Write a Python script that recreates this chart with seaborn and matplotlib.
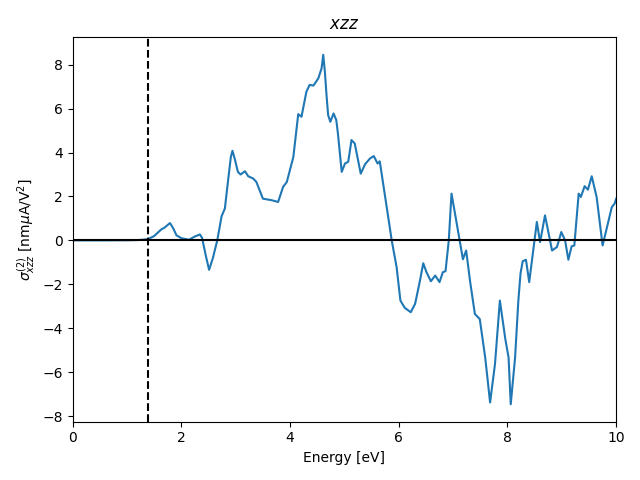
import matplotlib
matplotlib.use("Agg")
import matplotlib.pyplot as plt
import seaborn as sns
import pandas as pd

energy = [0.0, 0.5, 1.0, 1.2, 1.38, 1.5, 1.63, 1.69, 1.79, 1.85, 1.91, 2.0, 2.14, 2.25, 2.34, 2.38,
          2.45, 2.51, 2.58, 2.66, 2.74, 2.80, 2.86, 2.91, 2.94, 2.98, 3.04, 3.09, 3.17, 3.23,
          3.32, 3.38, 3.50, 3.66, 3.78, 3.87, 3.94, 4.06, 4.15, 4.21, 4.30, 4.36, 4.43, 4.52,
          4.58, 4.61, 4.64, 4.67, 4.70, 4.74, 4.80, 4.85, 4.88, 4.95,
          5.01, 5.07, 5.13, 5.19, 5.30, 5.38, 5.47, 5.54, 5.61, 5.65, 5.81, 5.87, 5.96, 6.03,
          6.11, 6.22, 6.30, 6.39, 6.45, 6.51, 6.59, 6.67, 6.75, 6.81, 6.86, 6.92, 6.97, 7.05,
          7.18, 7.24, 7.31, 7.40, 7.49, 7.59, 7.68, 7.77, 7.86, 7.96, 8.02, 8.06, 8.14, 8.20,
          8.24, 8.28, 8.34, 8.40, 8.54, 8.60, 8.69,
          8.82, 8.91, 8.99, 9.06, 9.12, 9.18, 9.23, 9.31, 9.35, 9.42, 9.48, 9.55, 9.64, 9.75,
          9.92, 9.97, 10.0]
sigma = [0.0, 0.0, 0.005, 0.015, 0.05, 0.2, 0.5, 0.58, 0.79, 0.55, 0.23, 0.1, 0.03, 0.18, 0.27, 0.12,
         -0.7, -1.34, -0.8, 0.0, 1.1, 1.45, 2.74, 3.8, 4.08, 3.73, 3.12, 3.0, 3.15, 2.92,
         2.82, 2.66, 1.9, 1.83, 1.75, 2.43, 2.66, 3.8, 5.75, 5.63, 6.77, 7.08, 7.05, 7.38,
         7.84, 8.45, 7.69, 6.62, 5.71, 5.4, 5.78, 5.48, 4.87, 3.12,
         3.5, 3.58, 4.57, 4.41, 3.04, 3.47, 3.73, 3.84, 3.5, 3.6, 0.99, 0.0, -1.22, -2.74,
         -3.07, -3.27, -2.89, -1.83, -1.04, -1.45, -1.86, -1.6, -1.9, -1.45, -1.4, 0.0, 2.13, 1.0,
         -0.86, -0.46, -1.83, -3.35, -3.58, -5.33, -7.38, -5.63, -2.74, -4.49, -5.33, -7.46, -5.33, -2.74,
         -1.5, -0.95, -0.88, -1.9, 0.84, -0.08, 1.14,
         -0.46, -0.3, 0.38, 0.0, -0.88, -0.27, -0.23, 2.13, 1.98, 2.47, 2.31, 2.92, 1.98, -0.23,
         1.52, 1.67, 1.9]

gap_energy = 1.38

df = pd.DataFrame({"Energy": energy, "sigma": sigma})

fig, ax = plt.subplots(figsize=(6.4, 4.8), dpi=100)
sns.lineplot(data=df, x="Energy", y="sigma", ax=ax, color="#1f77b4", linewidth=1.5)
ax.axhline(0, color="k", linewidth=1.5)
ax.axvline(gap_energy, color="k", linestyle="--", linewidth=1.5)
ax.set_xlim(0, 10)
ax.set_title("$xzz$")
ax.set_xlabel("Energy [eV]")
ax.set_ylabel(r"$\sigma^{(2)}_{xzz}$ [nm$\mu$A/V$^2$]")
fig.tight_layout()
fig.savefig("out.png", dpi=100)
